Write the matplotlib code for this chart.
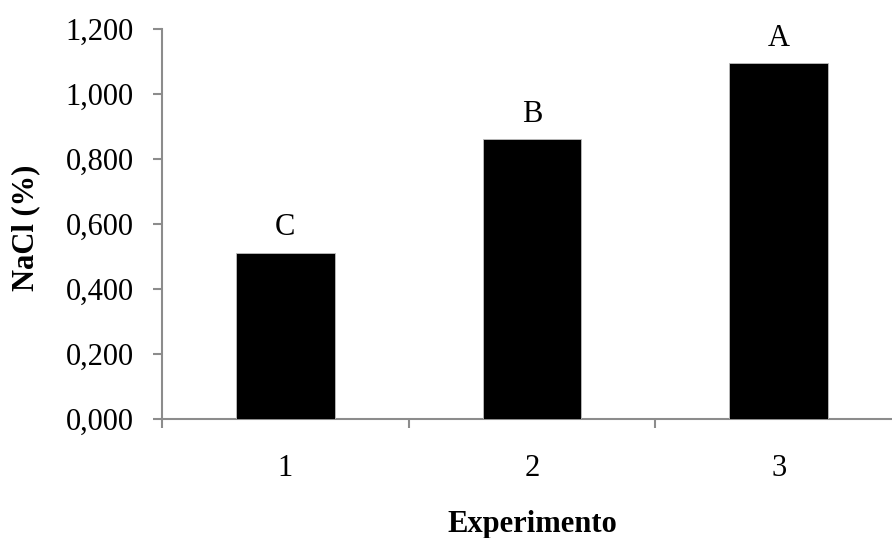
import matplotlib
matplotlib.use("Agg")
import matplotlib.pyplot as plt
from matplotlib.ticker import FuncFormatter, FixedLocator

categories = ["1", "2", "3"]
values = [0.512, 0.861, 1.095]
letters = ["C", "B", "A"]
yticks = [0.0, 0.2, 0.4, 0.6, 0.8, 1.0, 1.2]

plt.rcParams['font.family'] = ['Liberation Serif', 'DejaVu Serif']

W, H = 892, 538
fig = plt.figure(figsize=(W / 100, H / 100), dpi=100)
left, right, bottom_px, top_px = 162, 902, 419, 29.3
ax = fig.add_axes([left / W, (H - bottom_px) / H, (right - left) / W, (bottom_px - top_px) / H])

x = list(range(1, len(categories) + 1))
ax.bar(x, values, width=0.4, color='black', edgecolor='#bfbfbf', linewidth=0.6, zorder=3)

for xi, v, l in zip(x, values, letters):
    ax.annotate(l, (xi, v), xytext=(0, 12.5), textcoords='offset points',
                ha='center', va='baseline', fontsize=22)

ax.set_xlim(0.5, 3.5)
ax.set_ylim(0, 1.2)
ax.set_yticks(yticks)
ax.yaxis.set_major_formatter(FuncFormatter(lambda v, p: f"{v:.3f}".replace('.', ',')))
ax.set_xticks(x)
ax.set_xticklabels(categories)
ax.xaxis.set_minor_locator(FixedLocator([0.5, 1.5, 2.5]))

gray = '#8c8c8c'
for s in ['top', 'right']:
    ax.spines[s].set_visible(False)
for s in ['left', 'bottom']:
    ax.spines[s].set_color(gray)
    ax.spines[s].set_linewidth(1.5)

ax.tick_params(axis='y', direction='out', length=6.5, width=1.5, color=gray,
               labelsize=22, pad=14)
ax.tick_params(axis='x', which='major', length=0, labelsize=22, pad=25)
ax.tick_params(axis='x', which='minor', direction='out', length=6.5, width=1.5, color=gray)

fig.text(26 / W, 0.5 * ((H - bottom_px) / H + (H - top_px) / H) - 0.007, "NaCl (%)",
         rotation=90, ha='center', va='center', fontsize=22, fontweight='bold')
fig.text(532 / W, (H - 532) / H, "Experimento", ha='center', va='baseline',
         fontsize=22, fontweight='bold')

fig.savefig("out.png", dpi=100)
